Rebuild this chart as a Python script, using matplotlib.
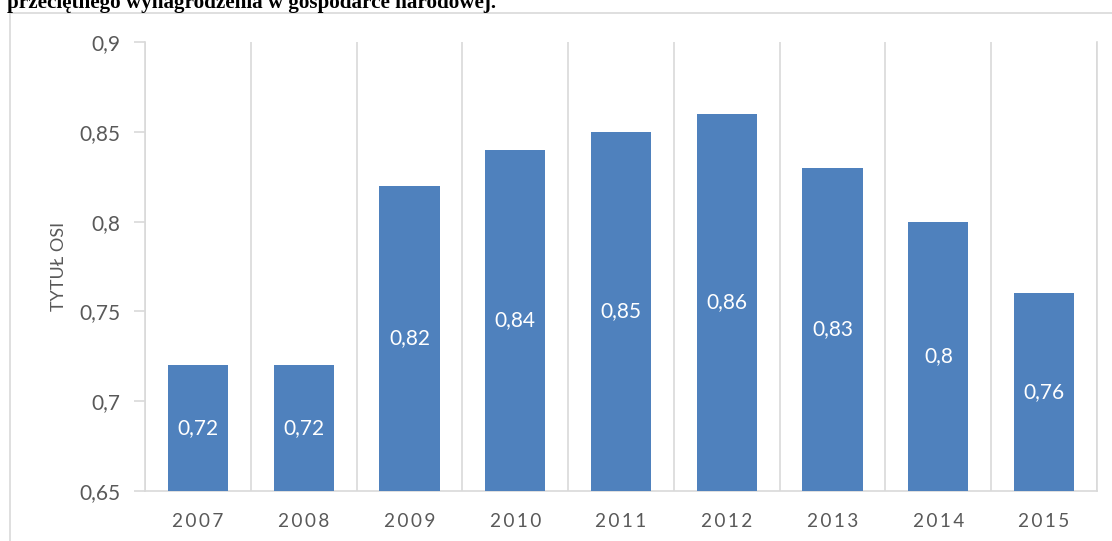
"""Recreate the Excel-style bar chart of yearly ratios (2007-2015)."""

import matplotlib

matplotlib.use("Agg")
import matplotlib.pyplot as plt
from matplotlib.patches import Rectangle
from matplotlib.ticker import FixedLocator, FuncFormatter


YEARS = ["2007", "2008", "2009", "2010", "2011", "2012", "2013", "2014", "2015"]
VALUES = [0.72, 0.72, 0.82, 0.84, 0.85, 0.86, 0.83, 0.80, 0.76]
Y_TICKS = [0.65, 0.70, 0.75, 0.80, 0.85, 0.90]
Y_LABEL = "TYTUŁ OSI"
HEADING = "przeciętnego wynagrodzenia w gospodarce narodowej."

BAR_COLOR = "#4F81BD"
GRID_COLOR = "#D9D9D9"
TEXT_COLOR = "#595959"
FONT = ["Lato", "DejaVu Sans"]


def pl_number(value: float) -> str:
    """Format a number the Polish way, with a decimal comma and no trailing zeros."""
    text = f"{value:.2f}".rstrip("0").rstrip(".")
    return text.replace(".", ",")


def main() -> None:
    fig = plt.figure(figsize=(11.12, 5.41), dpi=100)
    fig.patch.set_facecolor("white")

    # clipped document heading above the chart frame
    fig.text(7 / 1112, 1 - 8 / 541, HEADING, family="Liberation Serif",
             weight="bold", fontsize=15.2, va="baseline", ha="left", color="black")

    # chart-area frame (only left and top edges visible)
    fig.add_artist(Rectangle((9.5 / 1112, -0.1), 1.2, 1.1 - 12.5 / 541,
                             transform=fig.transFigure, fill=False,
                             edgecolor=GRID_COLOR, linewidth=1.2))

    ax = fig.add_axes([145 / 1112, 1 - 491 / 541, 952 / 1112, 449 / 541])
    x = list(range(len(YEARS)))
    bars = ax.bar(x, VALUES, width=0.57, color=BAR_COLOR, zorder=3)

    ax.set_xlim(-0.5, len(YEARS) - 0.5)
    ax.set_ylim(Y_TICKS[0], Y_TICKS[-1])

    # category-boundary gridlines
    ax.xaxis.set_minor_locator(FixedLocator([i + 0.5 for i in range(-1, len(YEARS))]))
    ax.grid(which="minor", axis="x", color=GRID_COLOR, linewidth=1.2, zorder=0)
    ax.tick_params(axis="x", which="minor", length=0)

    ax.set_xticks(x)
    ax.set_xticklabels(["\u2009".join(year) for year in YEARS],
                       family=FONT, fontsize=13.7, color=TEXT_COLOR)
    ax.tick_params(axis="x", which="major", length=0, pad=16)

    ax.set_yticks(Y_TICKS)
    ax.yaxis.set_major_formatter(FuncFormatter(lambda v, _: pl_number(v)))
    ax.tick_params(axis="y", length=8, width=1.2, color=GRID_COLOR,
                   labelcolor=TEXT_COLOR, labelsize=15, pad=10)
    for label in ax.get_yticklabels():
        label.set_family(FONT)

    ax.set_ylabel(Y_LABEL, family=FONT, fontsize=13, color=TEXT_COLOR)
    ax.yaxis.set_label_coords(-0.082, 0.5)

    ax.spines["top"].set_visible(False)
    for side in ["left", "right", "bottom"]:
        ax.spines[side].set_color(GRID_COLOR)
        ax.spines[side].set_linewidth(1.2)

    # white value labels centred inside each bar
    for bar, value in zip(bars, VALUES):
        ax.text(bar.get_x() + bar.get_width() / 2, (Y_TICKS[0] + value) / 2,
                pl_number(value), ha="center", va="center", color="white",
                family=FONT, fontsize=15, zorder=4)

    fig.savefig("out.png", dpi=100)
    plt.close(fig)


if __name__ == "__main__":
    main()
